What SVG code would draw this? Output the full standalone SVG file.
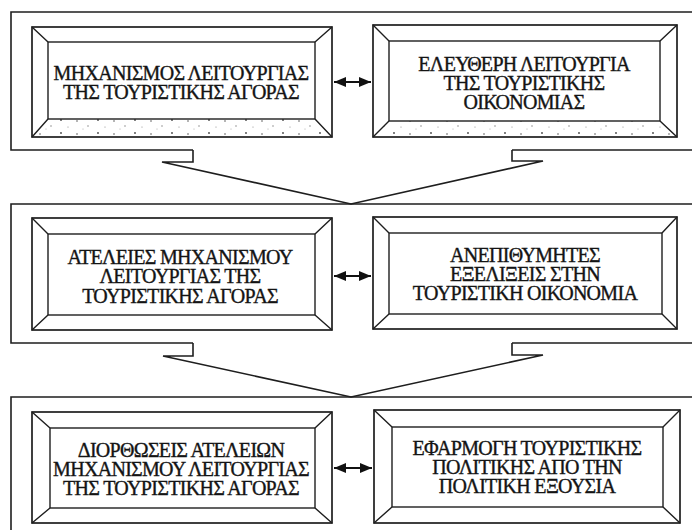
<svg xmlns="http://www.w3.org/2000/svg" width="692" height="530" viewBox="0 0 692 530">
<style>
.ln{fill:none;stroke:#1e1e1e;stroke-width:1.6;stroke-linejoin:miter}
.bx{fill:#fff;stroke:#1e1e1e;stroke-width:1.7}
.bv{fill:none;stroke:#1e1e1e;stroke-width:1.4}
.tx{font-family:"Liberation Serif","Times New Roman",serif;font-size:20px;letter-spacing:-0.7px;fill:#141414;stroke:#141414;stroke-width:0.35;text-anchor:middle}
.da{stroke:#111;stroke-width:2;marker-start:url(#ah);marker-end:url(#ah)}
</style>
<defs>
<marker id="ah" viewBox="0 0 12 12" refX="12" refY="6" markerWidth="12" markerHeight="12" orient="auto-start-reverse" markerUnits="userSpaceOnUse">
<path d="M0,1 L12,6 L0,11 Z" fill="#111"/>
</marker>
<pattern id="stip" width="37" height="13" patternUnits="userSpaceOnUse">
<circle cx="3" cy="4" r="0.8" fill="#555"/>
<circle cx="14" cy="9" r="0.7" fill="#777"/>
<circle cx="24" cy="3" r="0.9" fill="#444"/>
<circle cx="31" cy="10" r="0.6" fill="#888"/>
<circle cx="9" cy="12" r="0.5" fill="#999"/>
</pattern>
</defs>
<rect width="692" height="530" fill="#fff"/>

<g id="panel1"><path class="ln" d="M692,12 H11 V150 H193 M512,150 H692"/></g>
<g id="panel2"><path class="ln" d="M692,204 H11 V343 H193 M512,343 H692"/></g>
<g id="panel3"><path class="ln" d="M692,397 H11 V530"/></g>

<g id="box1">
<rect class="bx" x="32" y="27" width="300" height="110"/>
<path d="M48,119 H315 L332,137 H32 Z" fill="url(#stip)"/>
<rect class="bv" x="48" y="42" width="267" height="77"/>
<path class="bv" d="M32,27 L48,42 M332,27 L315,42 M32,137 L48,119 M332,137 L315,119"/>
<text class="tx" x="181" y="80">ΜΗΧΑΝΙΣΜΟΣ ΛΕΙΤΟΥΡΓΙΑΣ</text>
<text class="tx" x="181" y="99">ΤΗΣ ΤΟΥΡΙΣΤΙΚΗΣ ΑΓΟΡΑΣ</text>
</g>
<g id="box2">
<rect class="bx" x="373" y="25" width="304" height="112"/>
<path d="M389,121 H660 L677,137 H373 Z" fill="url(#stip)"/>
<rect class="bv" x="389" y="41" width="271" height="80"/>
<path class="bv" d="M373,25 L389,41 M677,25 L660,41 M373,137 L389,121 M677,137 L660,121"/>
<text class="tx" x="524" y="71">ΕΛΕΥΘΕΡΗ ΛΕΙΤΟΥΡΓΙΑ</text>
<text class="tx" x="524" y="90">ΤΗΣ ΤΟΥΡΙΣΤΙΚΗΣ</text>
<text class="tx" x="524" y="109">ΟΙΚΟΝΟΜΙΑΣ</text>
</g>
<g id="box3">
<rect class="bx" x="32" y="218" width="300" height="112"/>
<rect class="bv" x="48" y="234" width="267" height="81"/>
<path class="bv" d="M32,218 L48,234 M332,218 L315,234 M32,330 L48,315 M332,330 L315,315"/>
<text class="tx" x="180" y="264">ΑΤΕΛΕΙΕΣ ΜΗΧΑΝΙΣΜΟΥ</text>
<text class="tx" x="180" y="283">ΛΕΙΤΟΥΡΓΙΑΣ ΤΗΣ</text>
<text class="tx" x="180" y="303">ΤΟΥΡΙΣΤΙΚΗΣ ΑΓΟΡΑΣ</text>
</g>
<g id="box4">
<rect class="bx" x="373" y="217" width="304" height="112"/>
<rect class="bv" x="389" y="233" width="273" height="81"/>
<path class="bv" d="M373,217 L389,233 M677,217 L662,233 M373,329 L389,314 M677,329 L662,314"/>
<text class="tx" x="525" y="262">ΑΝΕΠΙΘΥΜΗΤΕΣ</text>
<text class="tx" x="525" y="281">ΕΞΕΛΙΞΕΙΣ ΣΤΗΝ</text>
<text class="tx" x="525" y="300">ΤΟΥΡΙΣΤΙΚΗ ΟΙΚΟΝΟΜΙΑ</text>
</g>
<g id="box5">
<rect class="bx" x="32" y="412" width="300" height="111"/>
<rect class="bv" x="50" y="428" width="265" height="80"/>
<path class="bv" d="M32,412 L50,428 M332,412 L315,428 M32,523 L50,508 M332,523 L315,508"/>
<text class="tx" x="181" y="457">ΔΙΟΡΘΩΣΕΙΣ ΑΤΕΛΕΙΩΝ</text>
<text class="tx" x="181" y="476">ΜΗΧΑΝΙΣΜΟΥ ΛΕΙΤΟΥΡΓΙΑΣ</text>
<text class="tx" x="181" y="495">ΤΗΣ ΤΟΥΡΙΣΤΙΚΗΣ ΑΓΟΡΑΣ</text>
</g>
<g id="box6">
<rect class="bx" x="374" y="410" width="306" height="113"/>
<rect class="bv" x="392" y="427" width="271" height="80"/>
<path class="bv" d="M374,410 L392,427 M680,410 L663,427 M374,523 L392,507 M680,523 L663,507"/>
<text class="tx" x="527" y="455">ΕΦΑΡΜΟΓΗ ΤΟΥΡΙΣΤΙΚΗΣ</text>
<text class="tx" x="527" y="474">ΠΟΛΙΤΙΚΗΣ ΑΠΟ ΤΗΝ</text>
<text class="tx" x="527" y="493">ΠΟΛΙΤΙΚΗ ΕΞΟΥΣΙΑ</text>
</g>

<g id="connectors">
<path class="ln" d="M193,150 V162 H162 L351,204 L543,161 H512 V150"/>
<path class="ln" d="M193,343 V356 H163 L351,397 L543,355 H512 V343"/>
<line class="da" x1="334" y1="82" x2="371" y2="82"/>
<line class="da" x1="334" y1="276" x2="371" y2="276"/>
<line class="da" x1="334" y1="468" x2="372" y2="468"/>
</g>
</svg>
